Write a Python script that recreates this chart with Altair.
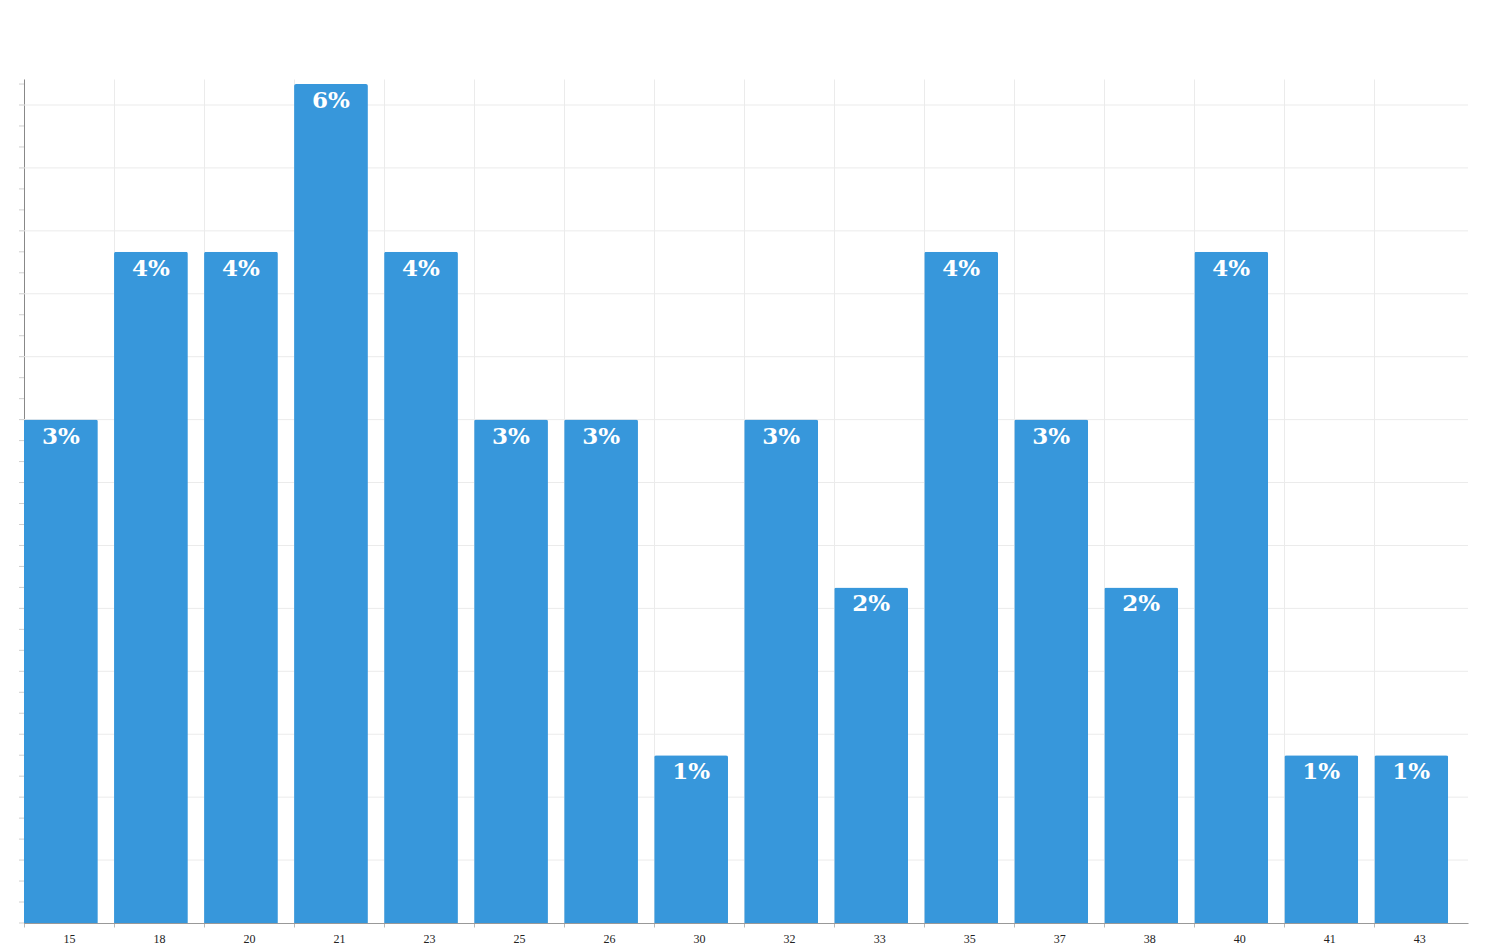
import altair as alt
import pandas as pd

ages = ["15", "18", "20", "21", "23", "25", "26", "30", "32", "33", "35", "37", "38", "40", "41", "43"]
counts = [3, 4, 4, 5, 4, 3, 3, 1, 3, 2, 4, 3, 2, 4, 1, 1]
labels = ["3%", "4%", "4%", "6%", "4%", "3%", "3%", "1%", "3%", "2%", "4%", "3%", "2%", "4%", "1%", "1%"]
grid_values = [k * 0.375 for k in range(1, 14)]
minor_ticks = [k * 0.125 for k in range(0, 41)]

df = pd.DataFrame({"age": ages, "count": counts, "label": labels})
grid_df = pd.DataFrame({"v": grid_values})
tick_df = pd.DataFrame({"v": minor_ticks})

xscale = alt.Scale(domain=ages, paddingInner=0.18, paddingOuter=0.11, align=0)
yscale = alt.Scale(domain=[0, 5.03], nice=False)

grid = alt.Chart(grid_df).mark_rule(color="#ebebeb", strokeWidth=1).encode(
    y=alt.Y("v:Q", scale=yscale),
    x=alt.value(0), x2=alt.value(1444),
)

ticks = alt.Chart(tick_df).mark_rule(color="#cfcfcf", strokeWidth=1).encode(
    y=alt.Y("v:Q", scale=yscale),
    x=alt.value(-5), x2=alt.value(0),
)

base = alt.Chart(df)

bars = base.mark_bar(color="#3797db", cornerRadiusTopLeft=2, cornerRadiusTopRight=2).encode(
    x=alt.X("age:N", scale=xscale, sort=ages, title=None,
            axis=alt.Axis(bandPosition=0, labelOffset=8.5, labelAngle=0, labelAlign="center",
                          tickSize=4, tickColor="#bbb", domainColor="#999", grid=True,
                          gridColor="#ebebeb", labelFont="Liberation Serif",
                          labelFontSize=12, labelColor="#222", labelPadding=6)),
    y=alt.Y("count:Q", scale=yscale, title=None,
            axis=alt.Axis(labels=False, ticks=False, grid=False, domainColor="#888")),
)

text = base.mark_text(color="white", font="DejaVu Serif", fontWeight="bold",
                      fontSize=23, baseline="middle", dy=17).encode(
    x=alt.X("age:N", scale=xscale, sort=ages, bandPosition=0.5),
    y=alt.Y("count:Q", scale=yscale),
    text="label:N",
)

chart = alt.layer(grid, ticks, bars, text).properties(
    width=1444, height=844,
    autosize=alt.AutoSizeParams(type="none"),
    padding={"left": 16, "top": 71, "right": 20, "bottom": 30},
).configure_view(stroke=None)

chart.save("out.html", embed_options={"renderer": "svg", "actions": False})
